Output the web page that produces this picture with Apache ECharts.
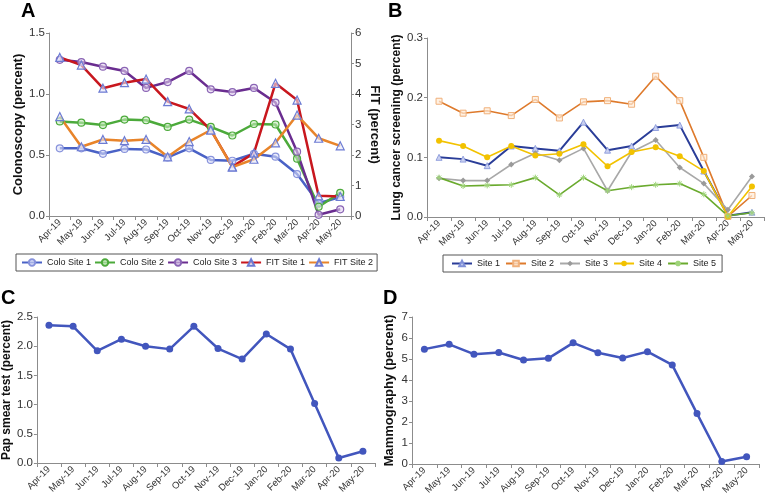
<!DOCTYPE html>
<html><head><meta charset="utf-8">
<script src="https://cdn.jsdelivr.net/npm/echarts@6/dist/echarts.min.js"></script>
<style>html,body{margin:0;padding:0;background:#fff}#c{width:767px;height:499px}</style>
</head><body><div id="c"></div><script>
const months = ['Apr-19','May-19','Jun-19','Jul-19','Aug-19','Sep-19','Oct-19','Nov-19','Dec-19','Jan-20','Feb-20','Mar-20','Apr-20','May-20'];
// Panel A (colonoscopy, percent; FIT, percent)
const coloSite1 = [0.555,0.555,0.51,0.55,0.545,0.48,0.555,0.46,0.453,0.51,0.486,0.344,0.105,0.156];
const coloSite2 = [0.775,0.765,0.745,0.79,0.785,0.73,0.79,0.73,0.66,0.754,0.75,0.47,0.076,0.19];
const coloSite3 = [1.28,1.262,1.224,1.189,1.05,1.098,1.189,1.038,1.016,1.05,0.93,0.527,0.01,0.055];
const fitSite1 = [5.2,4.95,4.19,4.37,4.49,3.75,3.51,2.82,1.62,2.06,4.35,3.8,0.66,0.64];
const fitSite2 = [3.26,2.27,2.51,2.47,2.51,1.94,2.44,2.82,1.6,1.86,2.4,3.31,2.55,2.3];
// Panel B (lung cancer screening, percent)
const lungSite1 = [0.1,0.097,0.086,0.119,0.115,0.111,0.159,0.112,0.119,0.15,0.154,0.077,0.002,0.008];
const lungSite2 = [0.194,0.174,0.178,0.17,0.197,0.166,0.193,0.195,0.189,0.236,0.195,0.1,0.001,0.036];
const lungSite3 = [0.065,0.061,0.061,0.088,0.107,0.095,0.115,0.044,0.109,0.129,0.083,0.056,0.012,0.068];
const lungSite4 = [0.128,0.119,0.1,0.119,0.103,0.106,0.122,0.085,0.109,0.117,0.102,0.077,0.001,0.051];
const lungSite5 = [0.066,0.052,0.053,0.054,0.066,0.037,0.066,0.044,0.05,0.054,0.056,0.038,0.002,0.007];
// Panel C (Pap smear test, percent)
const papSmear = [2.36,2.34,1.92,2.12,2.0,1.95,2.34,1.96,1.78,2.21,1.95,1.02,0.085,0.2];
// Panel D (Mammography, percent)
const mammo = [5.47,5.70,5.23,5.31,4.95,5.03,5.77,5.3,5.05,5.35,4.72,2.4,0.12,0.35];

const FONT = 'Liberation Sans, Arial, sans-serif';
const axisCol = '#8c8c8c';
function xAx(gi){
  return {type:'category', gridIndex:gi, data:months, boundaryGap:true,
    axisLine:{lineStyle:{color:axisCol,width:1}},
    axisTick:{show:true,interval:0,length:4,lineStyle:{color:axisCol}},
    axisLabel:{interval:0,rotate:45,fontSize:9.5,color:'#333',fontFamily:FONT,margin:5},
    splitLine:{show:false}};
}
function yAx(gi,min,max,step,name,gap,dec,nameSize,pos){
  return {type:'value', gridIndex:gi, min:min, max:max, interval:step, position:pos||'left',
    name:name, nameLocation:'middle', nameGap:gap, nameRotate: pos==='right'?-90:90,
    nameTextStyle:{fontSize:nameSize,fontWeight:'bold',color:'#111',fontFamily:FONT},
    axisLine:{show:true,lineStyle:{color:axisCol,width:1}},
    axisTick:{show:true,length:3,lineStyle:{color:axisCol}},
    axisLabel:{fontSize:11.5,color:'#333',fontFamily:FONT,margin:4,
      formatter:v=>v.toFixed(dec)},
    splitLine:{show:false}};
}
function ln(name,data,color,xi,yi,symbol,size,itemStyle,width){
  return {name:name,type:'line',xAxisIndex:xi,yAxisIndex:yi,data:data,
    symbol:symbol,symbolSize:size,showSymbol:true,
    lineStyle:{color:color,width:width},
    itemStyle:itemStyle, emphasis:{disabled:true}, animation:false};
}
const triStyle = {color:'rgba(230,232,250,0.6)',borderColor:'#6c7bd3',borderWidth:1.2};
const star = 'path://M5,0L5,10M0,5L10,5M1.5,1.5L8.5,8.5M8.5,1.5L1.5,8.5';

const option = {
  animation:false,
  textStyle:{fontFamily:FONT},
  title:[
    {text:'A',left:21,top:1,padding:0,textStyle:{fontSize:20,fontWeight:'bold',color:'#000',fontFamily:FONT}},
    {text:'B',left:388,top:1,padding:0,textStyle:{fontSize:20,fontWeight:'bold',color:'#000',fontFamily:FONT}},
    {text:'C',left:1,top:288,padding:0,textStyle:{fontSize:20,fontWeight:'bold',color:'#000',fontFamily:FONT}},
    {text:'D',left:383,top:288,padding:0,textStyle:{fontSize:20,fontWeight:'bold',color:'#000',fontFamily:FONT}}
  ],
  legend:[
    {data:['Colo Site 1','Colo Site 2','Colo Site 3','FIT Site 1','FIT Site 2'],
     left:16, top:254, padding:[4,4,4,5], itemGap:3, itemWidth:20, itemHeight:8,
     borderColor:'#555', borderWidth:1,
     textStyle:{fontSize:9,color:'#222',fontFamily:FONT}},
    {data:['Site 1','Site 2','Site 3','Site 4','Site 5'],
     left:443, top:255, padding:[4,6,4,8], itemGap:5, itemWidth:20, itemHeight:7,
     borderColor:'#555', borderWidth:1,
     textStyle:{fontSize:9,color:'#222',fontFamily:FONT}}
  ],
  grid:[
    {left:49, top:33, width:302, height:183},
    {left:427, top:38, width:337, height:179},
    {left:35, top:317, width:340, height:146},
    {left:412, top:317, width:347, height:147}
  ],
  xAxis:[xAx(0),xAx(1),xAx(2),xAx(3)],
  yAxis:[
    yAx(0,0,1.5,0.5,'Colonoscopy (percent)',22,1,13),
    yAx(0,0,6,1,'FIT (percent)',17,0,13,'right'),
    yAx(1,0,0.3,0.1,'Lung cancer screening (percent)',22,1,12),
    yAx(2,0,2.5,0.5,'Pap smear test (percent)',22,1,12),
    yAx(3,0,7,1,'Mammography (percent)',16,0,13)
  ],
  series:[
    ln('Colo Site 1',coloSite1,'#4a62c6',0,0,'circle',7,{color:'rgba(220,224,250,0.6)',borderColor:'#8893dc',borderWidth:1.2},2.5),
    ln('Colo Site 2',coloSite2,'#4caa3b',0,0,'circle',7,{color:'rgba(200,235,190,0.6)',borderColor:'#4caa3b',borderWidth:1.2},2.5),
    ln('Colo Site 3',coloSite3,'#6a2d90',0,0,'circle',7,{color:'rgba(225,210,240,0.6)',borderColor:'#8a64b4',borderWidth:1.2},2.5),
    ln('FIT Site 1',fitSite1,'#c8171e',0,1,'triangle',8,triStyle,2.5),
    ln('FIT Site 2',fitSite2,'#e8842a',0,1,'triangle',8,triStyle,2.5),
    ln('Site 1',lungSite1,'#2a3d98',1,2,'triangle',6,{color:'#c9d0f0',borderColor:'#8090d8',borderWidth:0.8},2),
    ln('Site 2',lungSite2,'#de7a2c',1,2,'rect',6,{color:'rgba(255,235,215,0.7)',borderColor:'#f0b07a',borderWidth:1},1.6),
    ln('Site 3',lungSite3,'#a8a8a8',1,2,'diamond',6,{color:'#9a9a9a'},1.6),
    ln('Site 4',lungSite4,'#f2c200',1,2,'circle',6,{color:'#f2c200'},1.6),
    ln('Site 5',lungSite5,'#6aaa2e',1,2,star,6,{color:'#9fd47a',borderColor:'#9fd47a',borderWidth:1},1.6),
    ln('Pap smear',papSmear,'#4256bd',2,3,'circle',7,{color:'#4256bd'},2.5),
    ln('Mammography',mammo,'#4256bd',3,4,'circle',7,{color:'#4256bd'},2.5)
  ]
};
const chart = echarts.init(document.getElementById('c'),null,{renderer:'canvas'});
chart.setOption(option);
</script></body></html>
